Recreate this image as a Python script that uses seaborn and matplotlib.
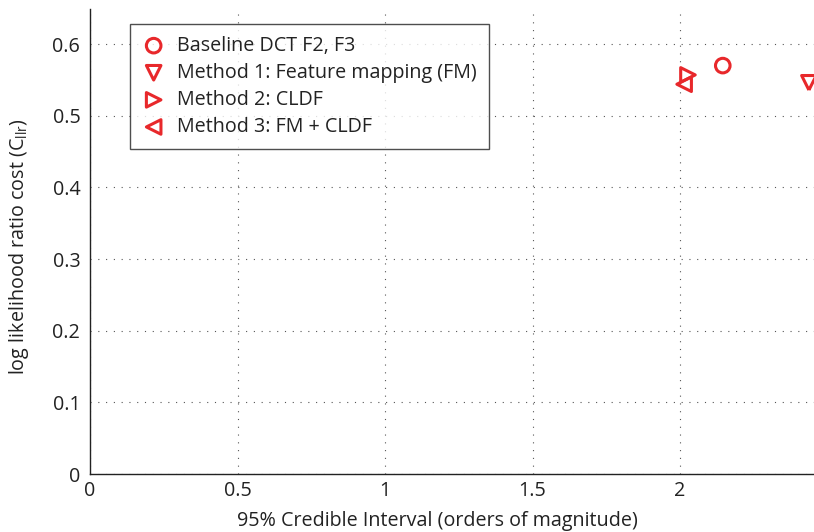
import matplotlib
matplotlib.use('Agg')
import matplotlib.pyplot as plt
import seaborn as sns
import pandas as pd
from matplotlib.ticker import FormatStrFormatter

# values
methods = ['Baseline DCT F2, F3',
           'Method 1: Feature mapping (FM)',
           'Method 2: CLDF',
           'Method 3: FM + CLDF']
ci_width = [2.145, 2.437, 2.027, 2.014]
cllr = [0.570, 0.546, 0.557, 0.544]
markers = ['o', 'v', '>', '<']

df = pd.DataFrame({'method': methods, 'ci': ci_width, 'cllr': cllr})

sns.set_style('white')
plt.rcParams['font.family'] = ['Open Sans', 'DejaVu Sans']
plt.rcParams['mathtext.fontset'] = 'custom'
plt.rcParams['mathtext.rm'] = 'Open Sans'

red = '#e8282b'
fs = 14.2
W, H = 814, 532
fig = plt.figure(figsize=(W / 100, H / 100), dpi=100)
# axes runs off the right side of the picture, like the cropped original
left, right, top, bottom = 90, 827.5, 9, 474
ax = fig.add_axes([left / W, 1 - bottom / H, (right - left) / W, (bottom - top) / H])

for i, row in df.iterrows():
    sns.scatterplot(data=df.iloc[[i]], x='ci', y='cllr', marker=markers[i], s=110,
                    facecolors='none', edgecolor=red, linewidth=2.2,
                    label=row['method'], ax=ax, zorder=3)

ax.set_xlim(0, 2.5)
ax.set_ylim(0, 0.649)
ax.set_xticks([0, 0.5, 1, 1.5, 2])
ax.set_yticks([0, 0.1, 0.2, 0.3, 0.4, 0.5, 0.6])
ax.xaxis.set_major_formatter(FormatStrFormatter('%g'))
ax.yaxis.set_major_formatter(FormatStrFormatter('%g'))
ax.tick_params(direction='in', length=5, width=0.8, labelsize=fs, colors='#222222', pad=5)
ax.tick_params(axis='y', pad=7)
ax.grid(True, color='#555555', linestyle=(0, (1, 6)), linewidth=0.8)

for s in ['top', 'right']:
    ax.spines[s].set_visible(False)
for s in ['left', 'bottom']:
    ax.spines[s].set_color('#222222')
    ax.spines[s].set_linewidth(1.0)

ax.set_xlabel('95% Credible Interval (orders of magnitude)', fontsize=fs, color='#222222')
ax.set_ylabel(r'log likelihood ratio cost (C$_{\mathregular{llr}}$)', fontsize=fs, color='#222222')
ax.xaxis.set_label_coords(347 / (right - left), -0.08)
ax.yaxis.set_label_coords(-0.08, 0.49)

leg = ax.legend(loc='upper left', bbox_to_anchor=((130 - left) / (right - left), 1 - (24 - top) / (bottom - top)),
                fontsize=fs, frameon=True, fancybox=False, edgecolor='#222222',
                handletextpad=0.6, borderpad=0.6, labelspacing=0.36, borderaxespad=0,
                handlelength=1.2, markerscale=1.0)
leg.get_frame().set_linewidth(1.0)
for t in leg.get_texts():
    t.set_color('#222222')

fig.savefig('out.png', dpi=100)
